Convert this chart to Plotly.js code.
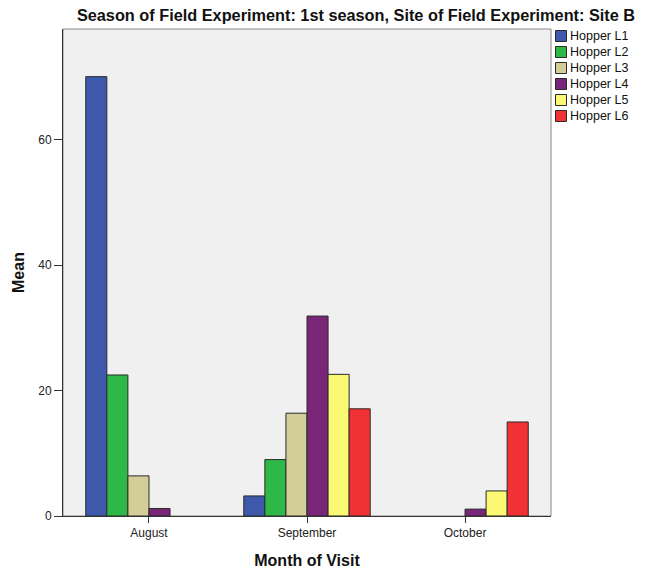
<!DOCTYPE html>
<html>
<head>
<meta charset="utf-8">
<script src="https://cdn.plot.ly/plotly-3.0.1.min.js"></script>
<style>html,body{margin:0;padding:0;background:#fff;}#chart{width:653px;height:572px;}</style>
</head>
<body>
<div id="chart"></div>
<script>
const months = ["August", "September", "October"];
const seriesNames = ["Hopper L1", "Hopper L2", "Hopper L3", "Hopper L4", "Hopper L5", "Hopper L6"];
const hopperL1 = [70.1, 3.2, null];
const hopperL2 = [22.5, 9.0, null];
const hopperL3 = [6.4, 16.4, null];
const hopperL4 = [1.2, 31.9, 1.1];
const hopperL5 = [null, 22.6, 4.0];
const hopperL6 = [null, 17.1, 15.0];
const seriesValues = [hopperL1, hopperL2, hopperL3, hopperL4, hopperL5, hopperL6];
const seriesColors = ["#3E58AC", "#2EB848", "#D3CE97", "#7A2678", "#FBF873", "#F03234"];

const W = 653, H = 572;
const M = { l: 63, r: 102, t: 29, b: 56 };
const pw = W - M.l - M.r, ph = H - M.t - M.b;
const px2x = p => (p - M.l) / pw;
const px2y = p => (H - M.b - p) / ph;

const traces = seriesNames.map((name, i) => ({
  type: "bar",
  name: name,
  x: months,
  y: seriesValues[i],
  marker: { color: seriesColors[i], line: { color: "#2a2a2a", width: 1 } }
}));

const shapes = [
  { type: "rect", xref: "paper", yref: "paper", x0: 0, x1: 1, y0: 0, y1: 1,
    line: { color: "#888", width: 1 }, fillcolor: "rgba(0,0,0,0)", layer: "below" }
];
const annotations = [];
seriesNames.forEach((name, i) => {
  const top = 30.5 + i * 16;
  shapes.push({ type: "rect", xref: "paper", yref: "paper",
    x0: px2x(555.5), x1: px2x(566.5), y0: px2y(top + 11), y1: px2y(top),
    fillcolor: seriesColors[i], line: { color: "#2a2a2a", width: 1 } });
  annotations.push({ xref: "paper", yref: "paper", x: px2x(568), y: px2y(top + 5.5),
    xanchor: "left", yanchor: "middle", showarrow: false, text: name,
    font: { size: 12.5, color: "#111" } });
});

const layout = {
  width: W,
  height: H,
  margin: M,
  paper_bgcolor: "#ffffff",
  plot_bgcolor: "#F0F0F0",
  font: { family: "Liberation Sans, Arial, sans-serif", color: "#222" },
  title: {
    text: "Season of Field Experiment: 1st season, Site of Field Experiment: Site B",
    font: { family: "Liberation Sans, Arial, sans-serif", size: 16.3, color: "#111", weight: "bold" },
    x: 356 / W, xanchor: "center", y: 1 - 15 / H, yanchor: "middle"
  },
  barmode: "group",
  bargap: 0.2,
  bargroupgap: 0,
  showlegend: false,
  xaxis: {
    type: "category",
    range: [-0.544, 2.544],
    showgrid: false,
    zeroline: false,
    showline: true,
    linecolor: "#333",
    linewidth: 1,
    ticks: "outside",
    ticklen: 6,
    tickcolor: "#333",
    tickfont: { size: 12, color: "#222" },
    title: { text: "Month of Visit", font: { size: 16, color: "#111", weight: "bold" }, standoff: 15 }
  },
  yaxis: {
    range: [0, 77.7],
    tickvals: [0, 20, 40, 60],
    showgrid: false,
    zeroline: false,
    showline: true,
    linecolor: "#333",
    linewidth: 1,
    ticks: "outside",
    ticklen: 8,
    tickcolor: "#333",
    tickfont: { size: 12, color: "#222" },
    title: { text: "Mean", font: { size: 16, color: "#111", weight: "bold" }, standoff: 9 }
  },
  shapes: shapes,
  annotations: annotations
};

Plotly.newPlot("chart", traces, layout, { displayModeBar: false, staticPlot: true });
</script>
</body>
</html>
